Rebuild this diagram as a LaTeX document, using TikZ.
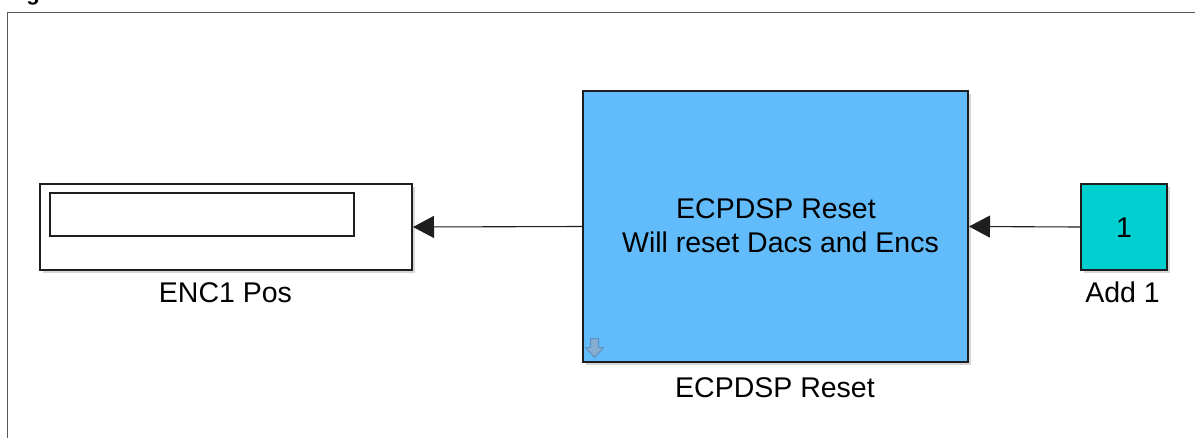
\documentclass[tikz,border=0pt]{standalone}
\usepackage{fontspec}
\setmainfont{Liberation Sans}
\usetikzlibrary{arrows.meta}
\definecolor{blockblue}{HTML}{62BBFA}
\definecolor{blockcyan}{HTML}{00CFD0}
\definecolor{edge}{HTML}{1E1E1E}
\definecolor{iconfill}{HTML}{86AED2}
\definecolor{icondraw}{HTML}{5E8FBF}
\tikzset{
  blk/.style={draw=edge, line width=2pt, rectangle, inner sep=0pt, align=center,
    font=\fontsize{28.5}{34}\selectfont},
  shadow/.style={fill=black!35, opacity=0.45, draw=none},
  lbl/.style={font=\fontsize{28.5}{34}\selectfont, inner sep=0pt, anchor=base},
  conn/.style={draw=edge, line width=1.1pt, -{Triangle[length=21pt,width=22pt]}},
}
\begin{document}
\begin{tikzpicture}[x=1pt,y=-1pt]
\useasboundingbox (0,0) rectangle (1195,437);
\fill[white] (0,0) rectangle (1195,437);
% cropped title letter
\node[font=\bfseries\fontsize{22}{26}\selectfont, anchor=base, inner sep=0pt] (title) at (33,0) {g};
% frame
\draw[draw=black!65, line width=1pt] (7,445) -- (7,12.5) -- (1200,12.5);
% shadows
\fill[shadow] (43,187) rectangle (415,273);
\fill[shadow] (586,94) rectangle (971,365);
\fill[shadow] (1084,187) rectangle (1170,273);
% blocks
\node[blk, fill=white, minimum width=372pt, minimum height=86pt] (enc) at (226,227) {};
\node[draw=edge, line width=1.1pt, fill=white, minimum width=304pt, minimum height=43pt, inner sep=0pt] (disp) at (202,214.5) {};
\node[blk, fill=blockblue, minimum width=385pt, minimum height=271pt] (ecp) at (775.5,226.5) {};
\node[lbl] (ecptxta) at (776,218) {ECPDSP Reset};
\node[lbl] (ecptxtb) at (780.5,252) {Will reset Dacs and Encs};
\node[blk, fill=blockcyan, minimum width=86pt, minimum height=86pt] (add) at (1124,227) {};
\node[lbl] (addtxt) at (1124,237) {1};
% labels
\node[lbl] (enclbl) at (225.5,302) {ENC1 Pos};
\node[lbl] (ecplbl) at (775,397) {ECPDSP Reset};
\node[lbl] (addlbl) at (1122.5,302) {Add 1};
% icon
\draw[fill=iconfill, draw=icondraw, line width=1pt, line join=round]
  (590.5,338.5) -- (598.5,338.5) -- (598.5,347.5) -- (603.5,347.5) -- (594.5,357.5) -- (585.5,347.5) -- (590.5,347.5) -- cycle;
% connectors
\draw[conn] (add.west) -- (ecp.east);
\draw[conn] (ecp.west) -- (enc.east);
\end{tikzpicture}
\end{document}
